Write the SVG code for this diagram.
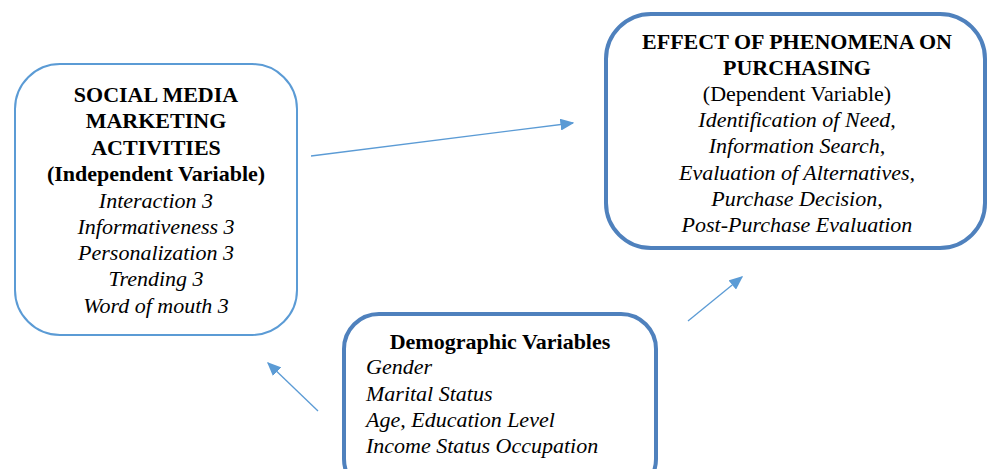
<svg xmlns="http://www.w3.org/2000/svg" width="988" height="469" viewBox="0 0 988 469">
<defs>
<marker id="ah" viewBox="0 0 10 10" refX="9" refY="5" markerWidth="14" markerHeight="12" markerUnits="userSpaceOnUse" orient="auto" preserveAspectRatio="none">
<path d="M0,0 L10,5 L0,10 z" fill="#5B9BD5"/>
</marker>
<style>
text{font-family:"Liberation Serif","Times New Roman",serif;font-size:22px;fill:#000}
.b{font-weight:bold}
.i{font-style:italic}
.c{text-anchor:middle}
.box1{fill:#fff;stroke:#5B9BD5;stroke-width:2}
.box2{fill:#fff;stroke:#4F81BD;stroke-width:4}
.conn{stroke:#5B9BD5;stroke-width:1.3;fill:none;marker-end:url(#ah)}
</style>
</defs>
<rect width="988" height="469" fill="#fff"/>
<g id="smma">
<rect class="box1" x="15" y="64" width="282" height="271" rx="45"/>
<text class="b c" x="156" y="102">SOCIAL MEDIA</text>
<text class="b c" x="156" y="128">MARKETING</text>
<text class="b c" x="156" y="155">ACTIVITIES</text>
<text class="b c" x="156" y="181">(Independent Variable)</text>
<text class="i c" x="156" y="208">Interaction 3</text>
<text class="i c" x="156" y="234">Informativeness 3</text>
<text class="i c" x="156" y="260">Personalization 3</text>
<text class="i c" x="156" y="286">Trending 3</text>
<text class="i c" x="156" y="313">Word of mouth 3</text>
</g>
<g id="effect">
<rect class="box2" x="606" y="14" width="379" height="234" rx="45"/>
<text class="b c" x="797" y="49">EFFECT OF PHENOMENA ON</text>
<text class="b c" x="797" y="75">PURCHASING</text>
<text class="c" x="797" y="101">(Dependent Variable)</text>
<text class="i c" x="797" y="127">Identification of Need,</text>
<text class="i c" x="797" y="153">Information Search,</text>
<text class="i c" x="797" y="180">Evaluation of Alternatives,</text>
<text class="i c" x="797" y="206">Purchase Decision,</text>
<text class="i c" x="797" y="232">Post-Purchase Evaluation</text>
</g>
<g id="demo">
<rect class="box2" x="344" y="314" width="312" height="180" rx="35"/>
<text class="b c" x="500" y="349">Demographic Variables</text>
<text class="i" x="366" y="374">Gender</text>
<text class="i" x="366" y="401">Marital Status</text>
<text class="i" x="366" y="427">Age, Education Level</text>
<text class="i" x="366" y="453">Income Status Occupation</text>
</g>
<g id="connectors">
<line class="conn" x1="311" y1="156" x2="573" y2="123"/>
<line class="conn" x1="688" y1="321" x2="742" y2="277"/>
<line class="conn" x1="318" y1="411" x2="268" y2="363"/>
</g>
</svg>
